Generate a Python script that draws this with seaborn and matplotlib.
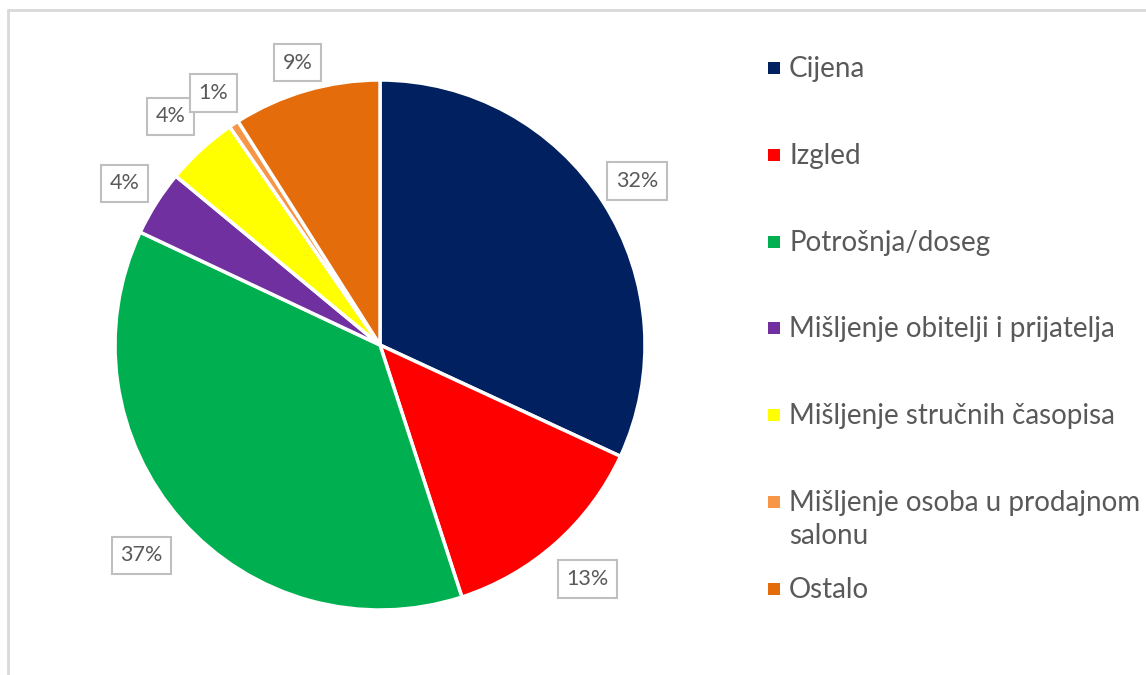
import matplotlib
matplotlib.use("Agg")
import numpy as np
import matplotlib.pyplot as plt
import seaborn as sns
from matplotlib.lines import Line2D
from matplotlib.patches import Rectangle

# Podaci (udio u %)
kategorije = ['Cijena', 'Izgled', 'Potrošnja/doseg', 'Mišljenje obitelji i prijatelja',
              'Mišljenje stručnih časopisa', 'Mišljenje osoba u prodajnom\nsalonu', 'Ostalo']
udjeli = [31.9, 13.1, 37.0, 4.0, 4.4, 0.6, 9.0]
boje = ['#002060', '#FF0000', '#00B050', '#7030A0', '#FFFF00', '#F79646', '#E46C0A']

# udaljenost oznaka od centra (u radijusima)
udaljenost = [1.15, 1.18, 1.20, 1.14, 1.17, 1.14, 1.11]

sns.set_theme(style='white')
plt.rcParams['font.family'] = ['Lato', 'DejaVu Sans']
siva = '#595959'

W, H = 1146, 675
fig = plt.figure(figsize=(W / 100, H / 100), dpi=100)

# os za pitu: centar (380, 345), radijus 265 px
r = 265
cx, cy = 380, 345
ax = fig.add_axes([(cx - 1.25 * r) / W, (H - cy - 1.25 * r) / H, 2.5 * r / W, 2.5 * r / H])
wedges, _, auto = ax.pie(udjeli, colors=boje, startangle=90, counterclock=False,
                         autopct='%.0f%%', pctdistance=1.16,
                         wedgeprops=dict(edgecolor='white', linewidth=2.5),
                         textprops=dict(color=siva, fontsize=15.5))
ax.set_xlim(-1.25, 1.25)
ax.set_ylim(-1.25, 1.25)
for w, t, d in zip(wedges, auto, udaljenost):
    kut = np.deg2rad((w.theta1 + w.theta2) / 2)
    t.set_position((d * np.cos(kut), d * np.sin(kut)))
    t.set_bbox(dict(boxstyle='square,pad=0.4', facecolor='white', edgecolor='#BFBFBF', linewidth=1.5))

# legenda
y_leg = [68, 155, 242, 328, 415, 502, 589]
for naziv, boja, y in zip(kategorije, boje, y_leg):
    fig.patches.append(Rectangle(((768) / W, 1 - (y + 6) / H), 12 / W, 12 / H,
                                 transform=fig.transFigure, facecolor=boja, edgecolor='none'))
    fig.text(789 / W, 1 - (y - 12) / H, naziv, color=siva, fontsize=20, va='top', ha='left',
             linespacing=1.32)

# okvir grafikona
okvir = dict(color='#D9D9D9', linewidth=2, transform=fig.transFigure)
fig.lines.append(Line2D([8 / W, 1], [1 - 10 / H, 1 - 10 / H], **okvir))
fig.lines.append(Line2D([8 / W, 8 / W], [0, 1 - 10 / H], **okvir))

fig.savefig('out.png', dpi=100)
